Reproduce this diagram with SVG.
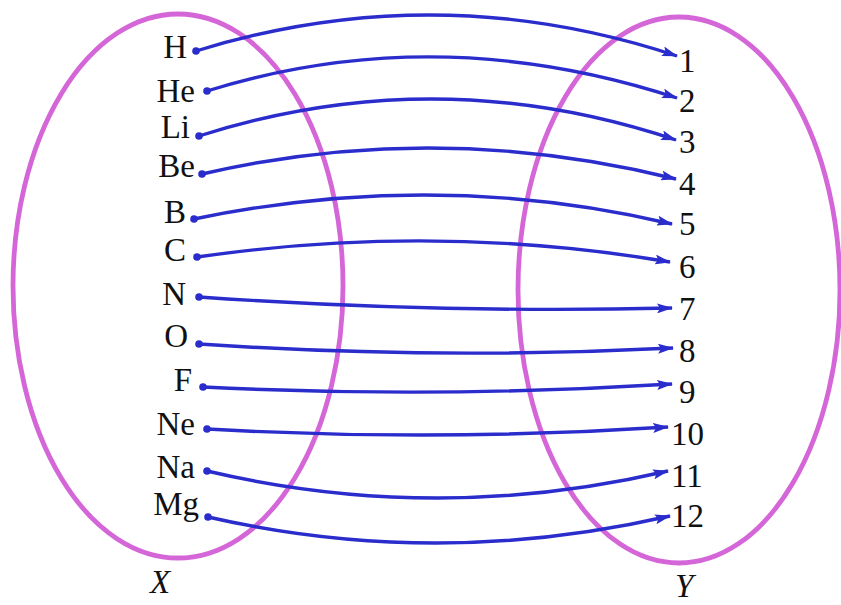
<svg xmlns="http://www.w3.org/2000/svg" width="841" height="605" viewBox="0 0 841 605">
<defs>
<style>
.set{fill:none;stroke:#d466d8;stroke-width:4.8}
.lbl{font-family:"Liberation Serif","Times New Roman",serif;font-size:33px;fill:#111}
.it{font-style:italic}
.arr{fill:none;stroke:#2a2ccc;stroke-width:3.4;marker-end:url(#ah)}
.dot{fill:#2a2ccc}
</style>
<marker id="ah" viewBox="0 0 16 10" refX="15" refY="5" markerWidth="16" markerHeight="10" markerUnits="userSpaceOnUse" orient="auto">
<path d="M0,0 L16,5 L0,10 L3,5 Z" fill="#2a2ccc"/>
</marker>
</defs>
<rect width="841" height="605" fill="#fff"/>
<g id="setX"><ellipse class="set" cx="178" cy="286" rx="165" ry="272"/><text class="lbl it" x="150" y="593">X</text></g>
<g id="setY"><ellipse class="set" cx="679" cy="290" rx="161" ry="273"/><text class="lbl it" x="675" y="597">Y</text></g>
<g id="domain" class="lbl" text-anchor="end">
<text x="187" y="58">H</text>
<text x="195" y="102">He</text>
<text x="190" y="138">Li</text>
<text x="195" y="177">Be</text>
<text x="186" y="223">B</text>
<text x="186" y="261">C</text>
<text x="186" y="305">N</text>
<text x="188" y="347">O</text>
<text x="192" y="391">F</text>
<text x="195" y="435">Ne</text>
<text x="195" y="478">Na</text>
<text x="199" y="515">Mg</text>
</g>
<g id="codomain" class="lbl">
<text x="679" y="72">1</text>
<text x="679" y="112">2</text>
<text x="679" y="153">3</text>
<text x="679" y="195">4</text>
<text x="679" y="235">5</text>
<text x="679" y="278">6</text>
<text x="679" y="320">7</text>
<text x="679" y="362">8</text>
<text x="679" y="403">9</text>
<text x="671" y="445">10</text>
<text x="671" y="487">11</text>
<text x="671" y="527">12</text>
</g>
<g id="connectors">
<path class="arr" d="M196,51 Q437,-23.5 677,56"/>
<path class="arr" d="M207,91 Q437,19.5 677,98"/>
<path class="arr" d="M199,136 Q437,60 676,140"/>
<path class="arr" d="M202,174 Q437,119.5 676,179"/>
<path class="arr" d="M194,219 Q437,168.5 672,224"/>
<path class="arr" d="M197,257 Q437,222.5 670,262"/>
<path class="arr" d="M199,297 Q437,313.5 672,308"/>
<path class="arr" d="M199,344 Q437,360 673,348"/>
<path class="arr" d="M203,387 Q437,398.5 672,384"/>
<path class="arr" d="M207,429 Q437,442 668,427"/>
<path class="arr" d="M207,471 Q437,525 668,471"/>
<path class="arr" d="M208,517 Q437,569.5 670,516"/>
<circle class="dot" cx="196" cy="51" r="3.8"/>
<circle class="dot" cx="207" cy="91" r="3.8"/>
<circle class="dot" cx="199" cy="136" r="3.8"/>
<circle class="dot" cx="202" cy="174" r="3.8"/>
<circle class="dot" cx="194" cy="219" r="3.8"/>
<circle class="dot" cx="197" cy="257" r="3.8"/>
<circle class="dot" cx="199" cy="297" r="3.8"/>
<circle class="dot" cx="199" cy="344" r="3.8"/>
<circle class="dot" cx="203" cy="387" r="3.8"/>
<circle class="dot" cx="207" cy="429" r="3.8"/>
<circle class="dot" cx="207" cy="471" r="3.8"/>
<circle class="dot" cx="208" cy="517" r="3.8"/>
</g>
</svg>
